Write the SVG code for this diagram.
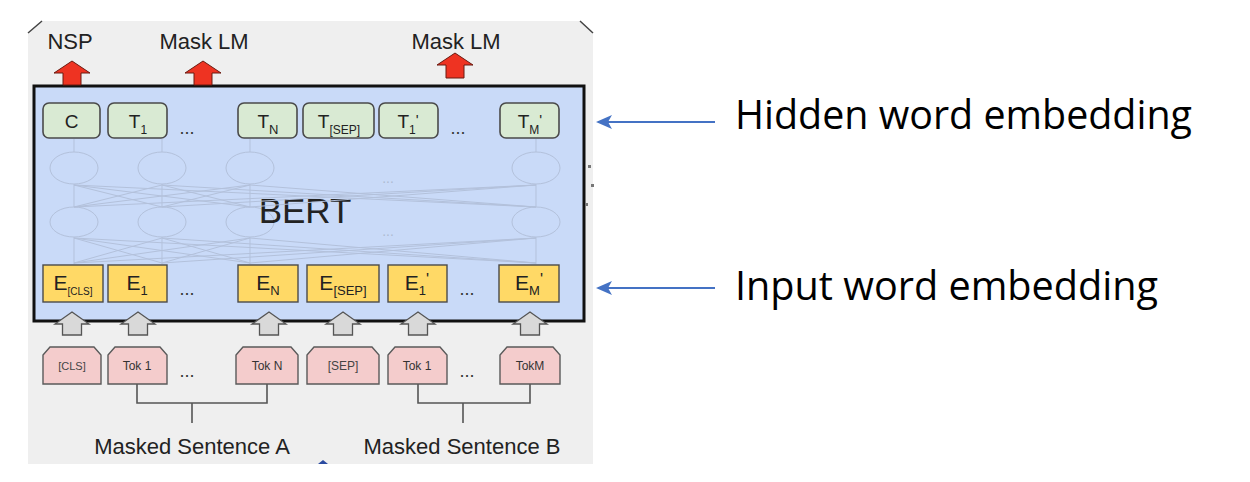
<svg xmlns="http://www.w3.org/2000/svg" width="1250" height="482" viewBox="0 0 1250 482">
<defs>
<style>
.lbl{font-family:"Liberation Sans",Arial,sans-serif;fill:#222}
.tbox{fill:#d9ead3;stroke:#4a4a4a;stroke-width:1.6}
.ebox{fill:#ffd966;stroke:#4a4a4a;stroke-width:1.4}
.tok{fill:#f4cccc;stroke:#5a5a5a;stroke-width:1.4}
.nn{fill:none;stroke:#b3c1db;stroke-width:1}
.nnl{stroke:#b3c1db;stroke-width:1;fill:none}
.gray{fill:#d9d9d9;stroke:#555;stroke-width:1.3}
.red{fill:#ee3322;stroke:#6a1a10;stroke-width:1}
.brk{fill:none;stroke:#555;stroke-width:1.6}
.blue{stroke:#4472c4;stroke-width:2.2;fill:none}
.big{font-family:"Open Sans","Noto Sans",sans-serif;font-size:41px;fill:#000}
.dots{font-size:18px;fill:#333}
</style>
<marker id="bh" viewBox="0 0 16 14" refX="14" refY="7" markerWidth="16" markerHeight="14" markerUnits="userSpaceOnUse" orient="auto">
<path d="M0,0 L16,7 L0,14 L4,7 Z" fill="#4472c4"/>
</marker>
</defs>
<rect width="1250" height="482" fill="#ffffff"/>
<g id="panel">
<path d="M28,33 L42,21 L580,21 L593,33 L593,464 L28,464 Z" fill="#efefef"/>
<path d="M28,33 L42,21 M580,21 L593,33" stroke="#444" stroke-width="1.5" fill="none"/>
</g>
<g id="bert">
<rect x="34" y="86" width="550" height="235" fill="#c9daf8" stroke="#111" stroke-width="3"/>
<g id="nn">
<ellipse class="nn" cx="74" cy="168" rx="24" ry="16"/>
<ellipse class="nn" cx="162" cy="168" rx="24" ry="16"/>
<ellipse class="nn" cx="250" cy="168" rx="24" ry="16"/>
<ellipse class="nn" cx="536" cy="168" rx="24" ry="16"/>
<ellipse class="nn" cx="74" cy="222" rx="24" ry="15"/>
<ellipse class="nn" cx="162" cy="222" rx="24" ry="15"/>
<ellipse class="nn" cx="250" cy="222" rx="24" ry="15"/>
<ellipse class="nn" cx="536" cy="222" rx="24" ry="15"/>
<text x="388" y="183" font-family="Liberation Sans,sans-serif" font-size="14" fill="#aebad2" text-anchor="middle">...</text>
<text x="388" y="236" font-family="Liberation Sans,sans-serif" font-size="14" fill="#aebad2" text-anchor="middle">...</text>
</g>
<text class="lbl" x="305" y="223" font-size="35" text-anchor="middle" fill="#111">BERT</text>
</g>
<g id="connectors">
<g id="nn-links" class="nnl">
<path d="M74,152V139 M162,152V139 M250,152V139 M536,152V139"/>
<path d="M74,207V184 M162,207V184 M250,207V184 M536,207V184"/>
<path d="M74,264V237 M162,264V237 M250,264V237 M536,264V237"/>
<path d="M74,207L162,185 M74,207L250,185 M74,207L536,185 M162,207L74,185 M162,207L250,185 M162,207L536,185 M250,207L74,185 M250,207L162,185 M250,207L536,185 M536,207L74,185 M536,207L162,185 M536,207L250,185"/>
<path d="M74,263L162,238 M74,263L250,238 M74,263L536,238 M162,263L74,238 M162,263L250,238 M162,263L536,238 M250,263L74,238 M250,263L162,238 M250,263L536,238 M536,263L74,238 M536,263L162,238 M536,263L250,238"/>
</g>
<g id="gray-arrows">
<path class="gray" d="M72,312 L89,324 L81.5,324 L81.5,335 L62.5,335 L62.5,324 L55,324 Z"/>
<path class="gray" d="M138,312 L155,324 L147.5,324 L147.5,335 L128.5,335 L128.5,324 L121,324 Z"/>
<path class="gray" d="M269,312 L286,324 L278.5,324 L278.5,335 L259.5,335 L259.5,324 L252,324 Z"/>
<path class="gray" d="M343,312 L360,324 L352.5,324 L352.5,335 L333.5,335 L333.5,324 L326,324 Z"/>
<path class="gray" d="M418,312 L435,324 L427.5,324 L427.5,335 L408.5,335 L408.5,324 L401,324 Z"/>
<path class="gray" d="M530,312 L547,324 L539.5,324 L539.5,335 L520.5,335 L520.5,324 L513,324 Z"/>
</g>
<g id="red-arrows">
<path class="red" d="M72,61 L90,73 L81,73 L81,85 L63,85 L63,73 L54,73 Z"/>
<path class="red" d="M203,61 L221,73 L212,73 L212,85 L194,85 L194,73 L185,73 Z"/>
<path class="red" d="M455,53 L473,65 L464,65 L464,78 L446,78 L446,65 L437,65 Z"/>
</g>
<g id="brackets">
<path class="brk" d="M137,384 V403 H267 V384 M192,403 V423"/>
<path class="brk" d="M418,384 V403 H530 V384 M463,403 V423"/>
</g>
<g id="label-arrows">
<line class="blue" x1="715" y1="122" x2="598" y2="122" marker-end="url(#bh)"/>
<line class="blue" x1="715" y1="288" x2="598" y2="288" marker-end="url(#bh)"/>
</g>
</g>
<g id="out-labels">
<text class="lbl" x="70" y="49" font-size="22" text-anchor="middle">NSP</text>
<text class="lbl" x="204" y="49" font-size="22" text-anchor="middle">Mask LM</text>
<text class="lbl" x="456" y="49" font-size="22" text-anchor="middle">Mask LM</text>
</g>
<g id="hidden-row" class="lbl" font-size="19" text-anchor="middle">
<g id="t-c"><rect class="tbox" x="43" y="103" width="57" height="35" rx="6"/><text x="71.5" y="128">C</text></g>
<g id="t-1"><rect class="tbox" x="108" y="103" width="59" height="35" rx="6"/><text x="138" y="128">T<tspan font-size="12" dy="6">1</tspan></text></g>
<text class="dots" x="187" y="134">...</text>
<g id="t-n"><rect class="tbox" x="238" y="103" width="59" height="35" rx="6"/><text x="268" y="128">T<tspan font-size="13" dy="6">N</tspan></text></g>
<g id="t-sep"><rect class="tbox" x="303" y="103" width="71" height="35" rx="6"/><text x="339" y="128">T<tspan font-size="12" dy="6">[SEP]</tspan></text></g>
<g id="t-1b"><rect class="tbox" x="379" y="103" width="59" height="35" rx="6"/><text x="408" y="128">T<tspan font-size="12" dy="6">1</tspan><tspan font-size="15" dy="-9">'</tspan></text></g>
<text class="dots" x="458" y="134">...</text>
<g id="t-m"><rect class="tbox" x="500" y="103" width="59" height="35" rx="6"/><text x="530" y="128">T<tspan font-size="12" dy="6">M</tspan><tspan font-size="15" dy="-9">'</tspan></text></g>
</g>
<g id="input-row" class="lbl" font-size="21" text-anchor="middle">
<g id="e-cls"><rect class="ebox" x="43" y="265" width="60" height="37"/><text x="73" y="290">E<tspan font-size="10" dy="5">[CLS]</tspan></text></g>
<g id="e-1"><rect class="ebox" x="108" y="265" width="59" height="37"/><text x="137" y="290">E<tspan font-size="13" dy="5">1</tspan></text></g>
<text class="dots" x="187" y="295">...</text>
<g id="e-n"><rect class="ebox" x="238" y="265" width="60" height="37"/><text x="268" y="290">E<tspan font-size="13" dy="5">N</tspan></text></g>
<g id="e-sep"><rect class="ebox" x="307" y="265" width="72" height="37"/><text x="343" y="290">E<tspan font-size="13" dy="5">[SEP]</tspan></text></g>
<g id="e-1b"><rect class="ebox" x="388" y="265" width="59" height="37"/><text x="417" y="290">E<tspan font-size="13" dy="5">1</tspan><tspan font-size="16" dy="-10">'</tspan></text></g>
<text class="dots" x="467" y="295">...</text>
<g id="e-m"><rect class="ebox" x="499" y="265" width="60" height="37"/><text x="529" y="290">E<tspan font-size="13" dy="5">M</tspan><tspan font-size="16" dy="-10">'</tspan></text></g>
</g>
<g id="tokens" class="lbl" font-size="12" text-anchor="middle">
<g id="tok-cls"><path class="tok" d="M43,384 V355 L50,347 H94 L101,355 V384 Z"/><text x="72" y="370" font-size="11" fill="#444">[CLS]</text></g>
<g id="tok-a1"><path class="tok" d="M108,384 V355 L115,347 H160 L167,355 V384 Z"/><text x="137" y="370" fill="#333">Tok 1</text></g>
<text class="dots" x="187" y="377">...</text>
<g id="tok-an"><path class="tok" d="M236,384 V355 L243,347 H291 L298,355 V384 Z"/><text x="267" y="370" fill="#333">Tok N</text></g>
<g id="tok-sep"><path class="tok" d="M307,384 V355 L314,347 H372 L379,355 V384 Z"/><text x="343" y="370" fill="#444">[SEP]</text></g>
<g id="tok-b1"><path class="tok" d="M388,384 V355 L395,347 H440 L447,355 V384 Z"/><text x="417" y="370" fill="#333">Tok 1</text></g>
<text class="dots" x="467" y="377">...</text>
<g id="tok-bm"><path class="tok" d="M500,384 V355 L507,347 H553 L560,355 V384 Z"/><text x="530" y="370" fill="#333">TokM</text></g>
</g>
<g id="sentence-labels" class="lbl" font-size="22" text-anchor="middle">
<text x="192" y="454">Masked Sentence A</text>
<text x="462" y="454">Masked Sentence B</text>
</g>
<g id="artifacts">
<rect x="588" y="165" width="3" height="3" fill="#777"/>
<rect x="591" y="184" width="3" height="3" fill="#777"/>
<rect x="585" y="203" width="3" height="3" fill="#777"/>
<path d="M318,464 L323,460 L328,464 Z" fill="#2a4aa0"/>
</g>
<g id="side-labels">
<text class="big" x="735" y="129" textLength="457" lengthAdjust="spacingAndGlyphs">Hidden word embedding</text>
<text class="big" x="735" y="300" textLength="423" lengthAdjust="spacingAndGlyphs">Input word embedding</text>
</g>
</svg>
